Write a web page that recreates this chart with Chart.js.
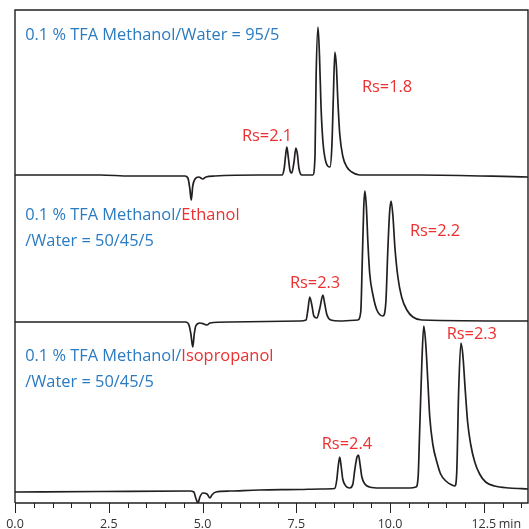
<!DOCTYPE html>
<html>
<head>
<meta charset="utf-8">
<script src="https://cdn.jsdelivr.net/npm/chart.js@4.4.1/dist/chart.umd.min.js"></script>
<style>
  html, body { margin: 0; padding: 0; background: #fff; }
  #wrap { width: 529px; height: 529px; }
</style>
</head>
<body>
<div id="wrap"><canvas id="chrom"></canvas></div>
<script>
// retention time (min) vs detector signal
const trace1 = [
  [0, 1], [2.27, 1], [3.07, 0], [4.53, 0], [4.61, -2], [4.66, -12], [4.70, -24], [4.74, -10],
  [4.80, -3], [4.90, -1], [5.01, -3], [5.09, -1], [5.33, 0], [6.53, 1], [7.12, 1],
  [7.18, 8], [7.22, 22], [7.25, 29], [7.29, 18], [7.33, 6], [7.38, 3], [7.44, 14],
  [7.49, 28], [7.53, 22], [7.57, 8], [7.65, 1], [7.94, 1], [8.00, 20], [8.03, 100],
  [8.08, 149], [8.12, 120], [8.16, 70], [8.21, 35], [8.29, 14], [8.40, 9], [8.45, 30],
  [8.49, 80], [8.53, 124], [8.57, 110], [8.61, 75], [8.66, 42], [8.74, 20], [8.85, 9],
  [8.98, 4], [9.19, 1], [10.8, 1], [13.68, -1]
];
const trace2 = [
  [0, 0], [4.55, 0], [4.64, -3], [4.69, -12], [4.74, -25], [4.78, -12], [4.82, -4],
  [4.93, -1], [5.04, -2], [5.12, -3], [5.20, -1], [5.73, 0], [7.60, 1], [7.76, 2],
  [7.81, 12], [7.86, 25], [7.92, 16], [7.97, 6], [8.05, 4], [8.13, 14], [8.21, 27],
  [8.26, 18], [8.32, 7], [8.42, 2], [8.66, 1], [9.14, 2], [9.22, 10], [9.26, 60],
  [9.30, 115], [9.33, 131], [9.37, 115], [9.41, 80], [9.46, 48], [9.54, 28], [9.65, 12],
  [9.81, 6], [9.89, 20], [9.94, 70], [9.99, 110], [10.03, 121], [10.08, 105], [10.13, 75],
  [10.21, 45], [10.31, 25], [10.45, 12], [10.61, 5], [10.85, 2], [13.68, 1]
];
const trace3 = [
  [0, 0], [2.27, 0.5], [4.66, 1], [4.77, 0], [4.82, -6], [4.88, -11], [4.93, -5],
  [5.01, -1], [5.12, -2], [5.20, -6], [5.25, -3], [5.36, 0], [5.73, 1], [6.53, 2],
  [7.60, 2.5], [8.13, 3], [8.53, 3.5], [8.58, 12], [8.62, 26], [8.66, 35], [8.70, 25],
  [8.74, 13], [8.82, 6], [8.93, 4], [9.01, 8], [9.06, 22], [9.12, 35], [9.16, 37],
  [9.20, 28], [9.25, 15], [9.33, 8], [9.46, 5], [9.73, 4], [10.53, 4], [10.69, 5],
  [10.75, 15], [10.79, 60], [10.85, 130], [10.90, 166], [10.95, 150], [11.01, 110],
  [11.06, 75], [11.14, 48], [11.25, 30], [11.35, 18], [11.49, 11], [11.65, 7], [11.73, 6],
  [11.78, 20], [11.83, 100], [11.89, 149], [11.94, 138], [12.01, 100], [12.07, 70],
  [12.15, 48], [12.26, 30], [12.39, 18], [12.55, 10], [12.79, 6], [13.19, 4], [13.68, 3]
];
// vertical stacking of the three runs
const traceOffsets = [327, 181, 11];
const traces = [trace1, trace2, trace3];

const tickLabels = ['0.0', '2.5', '5.0', '7.5', '10.0', '12.5'];

// [time, signal, [text parts, red?]]
const notes = [
  [0.27, 469, [['0.1 % TFA Methanol/Water = 95/5', false]]],
  [6.05, 368, [['Rs=2.1', true]]],
  [9.25, 417, [['Rs=1.8', true]]],
  [0.27, 289, [['0.1 % TFA Methanol/', false], ['Ethanol', true]]],
  [0.27, 263, [['/Water = 50/45/5', false]]],
  [7.33, 221, [['Rs=2.3', true]]],
  [10.53, 273, [['Rs=2.2', true]]],
  [0.27, 148, [['0.1 % TFA Methanol/', false], ['Isopropanol', true]]],
  [0.27, 122, [['/Water = 50/45/5', false]]],
  [8.18, 60, [['Rs=2.4', true]]],
  [11.51, 170, [['Rs=2.3', true]]]
];

const BLUE = '#2a7bc1';
const RED = '#ec2f2f';
const INK = '#231f20';

const frameAndText = {
  id: 'frameAndText',
  afterDatasetsDraw(chart) {
    const { ctx, chartArea: a, scales: { x, y } } = chart;
    ctx.save();
    // box
    ctx.strokeStyle = INK;
    ctx.lineWidth = 1.4;
    ctx.beginPath();
    ctx.moveTo(a.left, a.bottom);
    ctx.lineTo(a.left, a.top);
    ctx.lineTo(a.right, a.top);
    ctx.lineTo(a.right, a.bottom);
    ctx.lineTo(a.left, a.bottom);
    ctx.stroke();
    // ticks every 0.5 min
    ctx.lineWidth = 1;
    for (let i = 0; i <= 27; i++) {
      const px = Math.round(x.getPixelForValue(i * 0.5)) + 0.5;
      const len = i % 5 === 0 ? 10 : 5;
      ctx.beginPath();
      ctx.moveTo(px, a.bottom);
      ctx.lineTo(px, a.bottom + len);
      ctx.stroke();
    }
    ctx.font = '12.5px "Open Sans"';
    ctx.fillStyle = '#333';
    ctx.textAlign = 'center';
    ctx.textBaseline = 'middle';
    tickLabels.forEach((lab, i) => {
      ctx.fillText(lab, x.getPixelForValue(i * 2.5), a.bottom + 21);
    });
    ctx.textAlign = 'left';
    ctx.fillText('min', x.getPixelForValue(12.5) + 15, a.bottom + 21);
    // annotations
    ctx.font = '16.4px "Open Sans"';
    notes.forEach(([t, v, parts]) => {
      let px = x.getPixelForValue(t);
      const py = y.getPixelForValue(v);
      parts.forEach(([txt, red]) => {
        ctx.fillStyle = red ? RED : BLUE;
        ctx.fillText(txt, px, py + 1);
        px += ctx.measureText(txt).width;
      });
    });
    ctx.restore();
  }
};

new Chart(document.getElementById('chrom'), {
  type: 'line',
  data: {
    datasets: traces.map((tr, k) => ({
      data: tr.map(([t, v]) => ({ x: t, y: v + traceOffsets[k] })),
      borderColor: INK,
      borderWidth: 1.7,
      pointRadius: 0,
      cubicInterpolationMode: 'monotone',
      fill: false
    }))
  },
  options: {
    responsive: true,
    maintainAspectRatio: false,
    animation: false,
    layout: { padding: { left: 15, top: 10, right: 1, bottom: 0 } },
    plugins: { legend: { display: false }, tooltip: { enabled: false } },
    scales: {
      x: {
        type: 'linear',
        min: 0,
        max: 13.68,
        grid: { display: false },
        border: { display: false },
        ticks: { display: false },
        afterFit(scale) { scale.height = 26; }
      },
      y: {
        display: false,
        min: 0,
        max: 493
      }
    }
  },
  plugins: [frameAndText]
});
</script>
</body>
</html>
